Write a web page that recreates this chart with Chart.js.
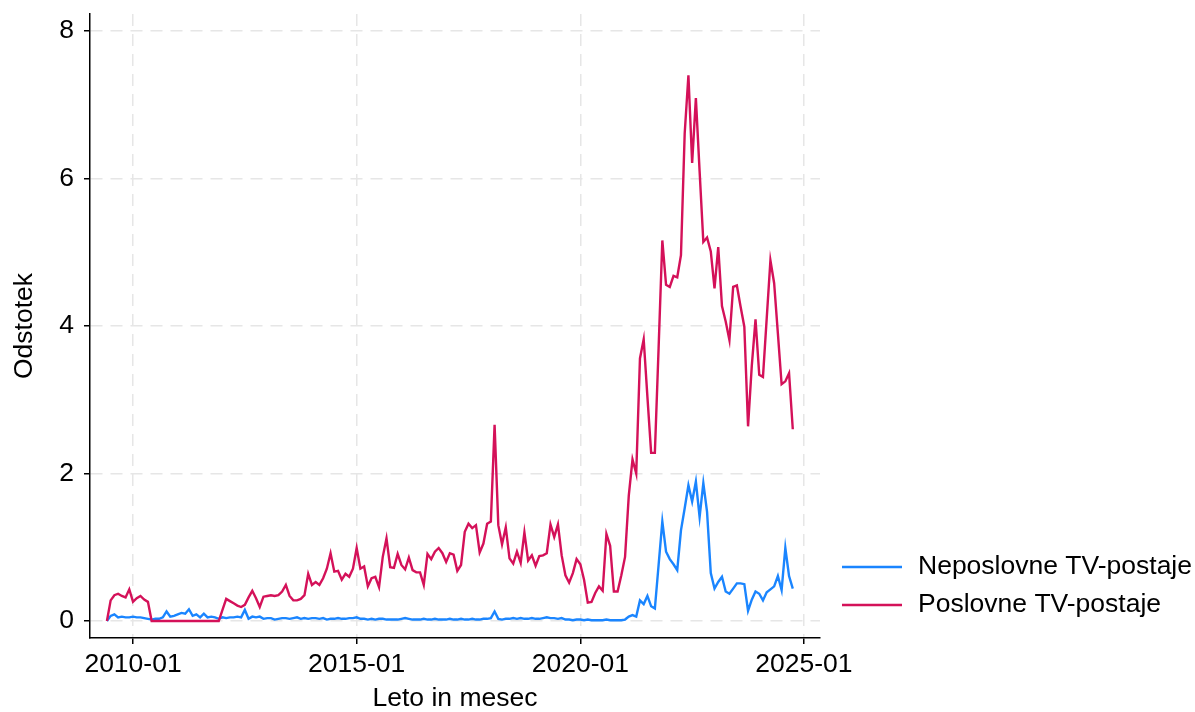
<!DOCTYPE html>
<html>
<head>
<meta charset="utf-8">
<script src="https://cdn.jsdelivr.net/npm/chart.js@4.4.0/dist/chart.umd.min.js"></script>
<style>
html,body{margin:0;padding:0;background:#fff;}
#wrap{width:1195px;height:712px;position:relative;}
</style>
</head>
<body>
<div id="wrap"><canvas id="c" width="1195" height="712"></canvas></div>
<script>
// ---------- data ----------
const months = [
 '2009-06','2009-07','2009-08','2009-09','2009-10','2009-11','2009-12',
 '2010-01','2010-02','2010-03','2010-04','2010-05','2010-06','2010-07','2010-08','2010-09','2010-10','2010-11','2010-12',
 '2011-01','2011-02','2011-03','2011-04','2011-05','2011-06','2011-07','2011-08','2011-09','2011-10','2011-11','2011-12',
 '2012-01','2012-02','2012-03','2012-04','2012-05','2012-06','2012-07','2012-08','2012-09','2012-10','2012-11','2012-12',
 '2013-01','2013-02','2013-03','2013-04','2013-05','2013-06','2013-07','2013-08','2013-09','2013-10','2013-11','2013-12',
 '2014-01','2014-02','2014-03','2014-04','2014-05','2014-06','2014-07','2014-08','2014-09','2014-10','2014-11','2014-12',
 '2015-01','2015-02','2015-03','2015-04','2015-05','2015-06','2015-07','2015-08','2015-09','2015-10','2015-11','2015-12',
 '2016-01','2016-02','2016-03','2016-04','2016-05','2016-06','2016-07','2016-08','2016-09','2016-10','2016-11','2016-12',
 '2017-01','2017-02','2017-03','2017-04','2017-05','2017-06','2017-07','2017-08','2017-09','2017-10','2017-11','2017-12',
 '2018-01','2018-02','2018-03','2018-04','2018-05','2018-06','2018-07','2018-08','2018-09','2018-10','2018-11','2018-12',
 '2019-01','2019-02','2019-03','2019-04','2019-05','2019-06','2019-07','2019-08','2019-09','2019-10','2019-11','2019-12',
 '2020-01','2020-02','2020-03','2020-04','2020-05','2020-06','2020-07','2020-08','2020-09','2020-10','2020-11','2020-12',
 '2021-01','2021-02','2021-03','2021-04','2021-05','2021-06','2021-07','2021-08','2021-09','2021-10','2021-11','2021-12',
 '2022-01','2022-02','2022-03','2022-04','2022-05','2022-06','2022-07','2022-08','2022-09','2022-10','2022-11','2022-12',
 '2023-01','2023-02','2023-03','2023-04','2023-05','2023-06','2023-07','2023-08','2023-09','2023-10','2023-11','2023-12',
 '2024-01','2024-02','2024-03','2024-04','2024-05','2024-06','2024-07','2024-08','2024-09','2024-10'
];

const neposlovne = [
 0.00,0.07,0.09,0.05,0.06,0.05,0.05,
 0.06,0.05,0.05,0.04,0.03,0.02,0.03,0.03,0.05,0.13,
 0.06,0.07,0.09,0.11,0.10,0.16,0.07,0.09,0.05,0.10,
 0.05,0.06,0.05,0.03,0.05,0.04,0.05,0.05,0.06,0.05,
 0.15,0.03,0.06,0.05,0.06,0.03,0.04,0.04,0.02,0.03,
 0.04,0.04,0.03,0.04,0.05,0.03,0.04,0.03,0.04,0.04,
 0.03,0.04,0.02,0.03,0.03,0.04,0.03,0.03,0.04,0.04,
 0.05,0.03,0.03,0.02,0.03,0.02,0.03,0.03,0.02,0.02,
 0.02,0.02,0.03,0.04,0.03,0.02,0.02,0.02,0.03,0.02,
 0.02,0.03,0.02,0.02,0.02,0.03,0.02,0.02,0.03,0.02,
 0.02,0.03,0.02,0.02,0.03,0.03,0.04,0.13,0.03,0.02,
 0.03,0.03,0.04,0.03,0.04,0.03,0.03,0.04,0.03,0.03,
 0.04,0.05,0.04,0.04,0.03,0.04,0.02,0.02,0.01,0.02,
 0.02,0.01,0.02,0.01,0.01,0.01,0.01,0.02,0.01,0.01,
 0.01,0.01,0.02,0.06,0.08,0.06,0.28,0.23,0.34,0.20,
 0.17,0.76,1.35,0.94,0.84,0.77,0.69,1.23,1.53,1.84,
 1.62,1.89,1.41,1.87,1.48,0.65,0.44,0.53,0.60,0.40,
 0.37,0.44,0.51,0.51,0.50,0.14,0.29,0.40,0.37,0.28,
 0.39,0.43,0.47,0.61,0.42,0.99,0.61,0.44
];

const poslovne = [
 0.00,0.28,0.35,0.37,0.34,0.32,0.43,
 0.26,0.31,0.34,0.29,0.26,
 0,0,0,0,0,0,0,0,0,0,0,0,0,0,0,0,0,0,0,
 0.15,0.30,0.27,0.24,0.21,0.19,0.22,0.32,0.41,0.31,0.19,0.33,0.34,0.35,0.34,0.35,0.40,0.49,0.34,0.28,0.28,0.30,0.35,
 0.64,0.49,0.53,0.49,0.58,0.71,0.92,0.67,0.68,0.56,0.64,0.60,0.71,
 0.99,0.71,0.74,0.47,0.58,0.60,0.46,0.87,1.12,0.73,
 0.72,0.91,0.76,0.70,0.86,0.69,0.66,0.66,0.49,0.91,
 0.84,0.94,0.99,0.92,0.80,0.92,0.90,0.68,0.76,1.21,
 1.32,1.26,1.30,0.93,1.05,1.32,1.35,2.66,1.30,1.04,
 1.27,0.85,0.78,0.94,0.79,1.20,0.82,0.89,0.75,0.88,
 0.89,0.92,1.31,1.14,1.31,0.89,0.62,0.52,0.65,0.84,
 0.77,0.56,0.25,0.26,0.38,0.47,0.41,1.18,1.02,0.40,
 0.40,0.62,0.87,1.70,2.19,2.00,
 3.56,3.82,3.04,2.28,2.28,3.70,5.16,4.56,4.53,4.68,
 4.66,4.96,6.61,7.40,6.21,7.09,6.10,5.14,5.20,5.01,
 4.51,5.07,4.27,4.06,3.81,4.53,4.55,4.26,3.99,2.64,
 3.46,4.09,3.34,3.31,4.10,4.89,4.58,3.90,3.21,3.25,3.36,2.60
];

const seriesLabels = ['Neposlovne TV-postaje', 'Poslovne TV-postaje'];
const xTickLabels = ['2010-01', '2015-01', '2020-01', '2025-01'];
const yTickValues = [0, 2, 4, 6, 8];

// ---------- helpers ----------
function monthIndex(s) {           // months since 2010-01
  const [y, m] = s.split('-').map(Number);
  return (y - 2010) * 12 + (m - 1);
}
const xTickValues = xTickLabels.map(monthIndex);

const FONT = "'Liberation Sans', Arial, Helvetica, sans-serif";
const FS = 26.5;
const BLUE = '#1a85ff';
const RED = '#d41159';
const GRID = '#e6e6e6';

const legendPlugin = {
  id: 'sideLegend',
  afterDraw(chart) {
    const ctx = chart.ctx;
    const rows = [567, 605];
    ctx.save();
    chart.data.datasets.forEach((ds, i) => {
      const y = rows[i];
      ctx.strokeStyle = ds.borderColor;
      ctx.lineWidth = 2.5;
      ctx.beginPath();
      ctx.moveTo(842, y);
      ctx.lineTo(902, y);
      ctx.stroke();
      ctx.fillStyle = '#000';
      ctx.font = FS + 'px ' + FONT;
      ctx.textBaseline = 'middle';
      ctx.textAlign = 'left';
      ctx.fillText(ds.label, 918, y);
    });
    ctx.restore();
  }
};

const ctx = document.getElementById('c').getContext('2d');
new Chart(ctx, {
  type: 'line',
  data: {
    datasets: [
      {
        label: seriesLabels[0],
        data: months.map((m, i) => ({ x: monthIndex(m), y: neposlovne[i] })),
        borderColor: BLUE, backgroundColor: BLUE,
        borderWidth: 2.4, pointRadius: 0, tension: 0, fill: false, order: 2
      },
      {
        label: seriesLabels[1],
        data: months.map((m, i) => ({ x: monthIndex(m), y: poslovne[i] })),
        borderColor: RED, backgroundColor: RED,
        borderWidth: 2.4, pointRadius: 0, tension: 0, fill: false, order: 1
      }
    ]
  },
  options: {
    responsive: false,
    animation: false,
    devicePixelRatio: 1,
    layout: { padding: { left: 0, right: 375, top: 14, bottom: 0 } },
    plugins: { legend: { display: false }, tooltip: { enabled: false } },
    scales: {
      x: {
        type: 'linear',
        min: -11.54,
        max: 184.3,
        afterBuildTicks: s => { s.ticks = xTickValues.map(v => ({ value: v })); },
        afterFit: s => { s.height = 74; s.paddingLeft = 0; s.paddingRight = 0; },
        ticks: {
          autoSkip: false, maxRotation: 0, padding: 5, color: '#000',
          font: { family: FONT, size: FS },
          callback: v => { const k = xTickValues.indexOf(v); return k >= 0 ? xTickLabels[k] : ''; }
        },
        grid: { color: GRID, lineWidth: 1.5, drawTicks: true, tickLength: 6, tickColor: '#000', tickWidth: 1.5 },
        border: { display: true, color: '#000', width: 1.5, dash: [12, 8] },
        title: { display: true, text: 'Leto in mesec', color: '#000', font: { family: FONT, size: FS, lineHeight: 1.0 }, padding: { top: 0, bottom: 0 } }
      },
      y: {
        type: 'linear',
        min: -0.23,
        max: 8.23,
        afterBuildTicks: s => { s.ticks = yTickValues.map(v => ({ value: v })); },
        afterFit: s => { s.width = 90; s.paddingTop = 0; s.paddingBottom = 0; },
        ticks: { padding: 10, color: '#000', font: { family: FONT, size: FS } },
        grid: { color: GRID, lineWidth: 1.5, drawTicks: true, tickLength: 6, tickColor: '#000', tickWidth: 1.5 },
        border: { display: true, color: '#000', width: 1.5, dash: [12, 8] },
        title: { display: true, text: 'Odstotek', color: '#000', font: { family: FONT, size: FS, lineHeight: 1.0 }, padding: { top: 11, bottom: 0 } }
      }
    }
  },
  plugins: [legendPlugin]
});
</script>
</body>
</html>
